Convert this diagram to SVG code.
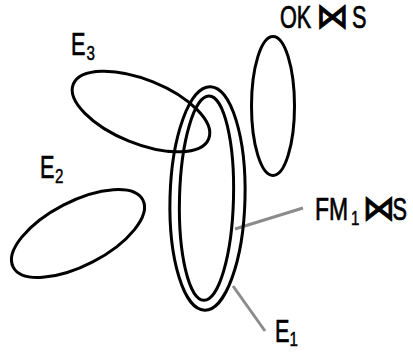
<svg xmlns="http://www.w3.org/2000/svg" width="413" height="352" viewBox="0 0 413 352">
<style>
.e{fill:none;stroke:#000;stroke-width:3}
.c{stroke:#8c8c8c;stroke-width:3;fill:none}
.t{font-family:"Liberation Sans",Arial,sans-serif;font-size:31px;fill:#000;stroke:#000;stroke-width:0.7}
.s{font-family:"Liberation Sans",Arial,sans-serif;font-size:21px;fill:#000;stroke:#000;stroke-width:0.5}
.b{font-family:"DejaVu Sans",sans-serif;font-size:35px;fill:#000;stroke:#000;stroke-width:1}
</style>
<rect width="413" height="352" fill="#fff"/>
<g id="connectors">
<line class="c" x1="235" y1="229" x2="303" y2="208"/>
<line class="c" x1="233" y1="286" x2="265" y2="331"/>
</g>
<g id="E3">
<ellipse class="e" cx="141" cy="111.5" rx="73" ry="32" transform="rotate(22 141 111.5)"/>
<text class="t" transform="matrix(0.7 0 0 1 71 55)">E</text>
<text class="s" transform="matrix(0.72 0 0 1 86.5 60)">3</text>
</g>
<g id="E2">
<ellipse class="e" cx="78" cy="233.5" rx="73" ry="32" transform="rotate(-27.4 78 233.5)"/>
<text class="t" transform="matrix(0.7 0 0 1 40 178.3)">E</text>
<text class="s" transform="matrix(0.72 0 0 1 55 183)">2</text>
</g>
<g id="OKS">
<ellipse class="e" cx="273" cy="106" rx="21.5" ry="69.5"/>
<text class="t" transform="matrix(0.7 0 0 1 280 28)">OK</text>
<text class="b" transform="matrix(0.92 0 0 1 316 28)">⋈</text>
<text class="t" transform="matrix(0.7 0 0 1 352 28)">S</text>
</g>
<g id="E1">
<ellipse class="e" cx="207.5" cy="198.4" rx="37.5" ry="111.8" transform="rotate(1.5 207.5 198.4)"/>
<text class="t" transform="matrix(0.7 0 0 1 275 341.7)">E</text>
<text class="s" transform="matrix(0.72 0 0 1 289.5 345.5)">1</text>
</g>
<g id="FM1S">
<ellipse class="e" cx="206.5" cy="198.2" rx="27" ry="102.2" transform="rotate(1.5 206.5 198.2)"/>
<text class="t" transform="matrix(0.74 0 0 1 315 220)">FM</text>
<text class="s" transform="matrix(0.72 0 0 1 351 225)">1</text>
<text class="b" transform="matrix(0.92 0 0 1 362.5 220)">⋈</text>
<text class="t" transform="matrix(0.7 0 0 1 392.5 220)">S</text>
</g>
</svg>
